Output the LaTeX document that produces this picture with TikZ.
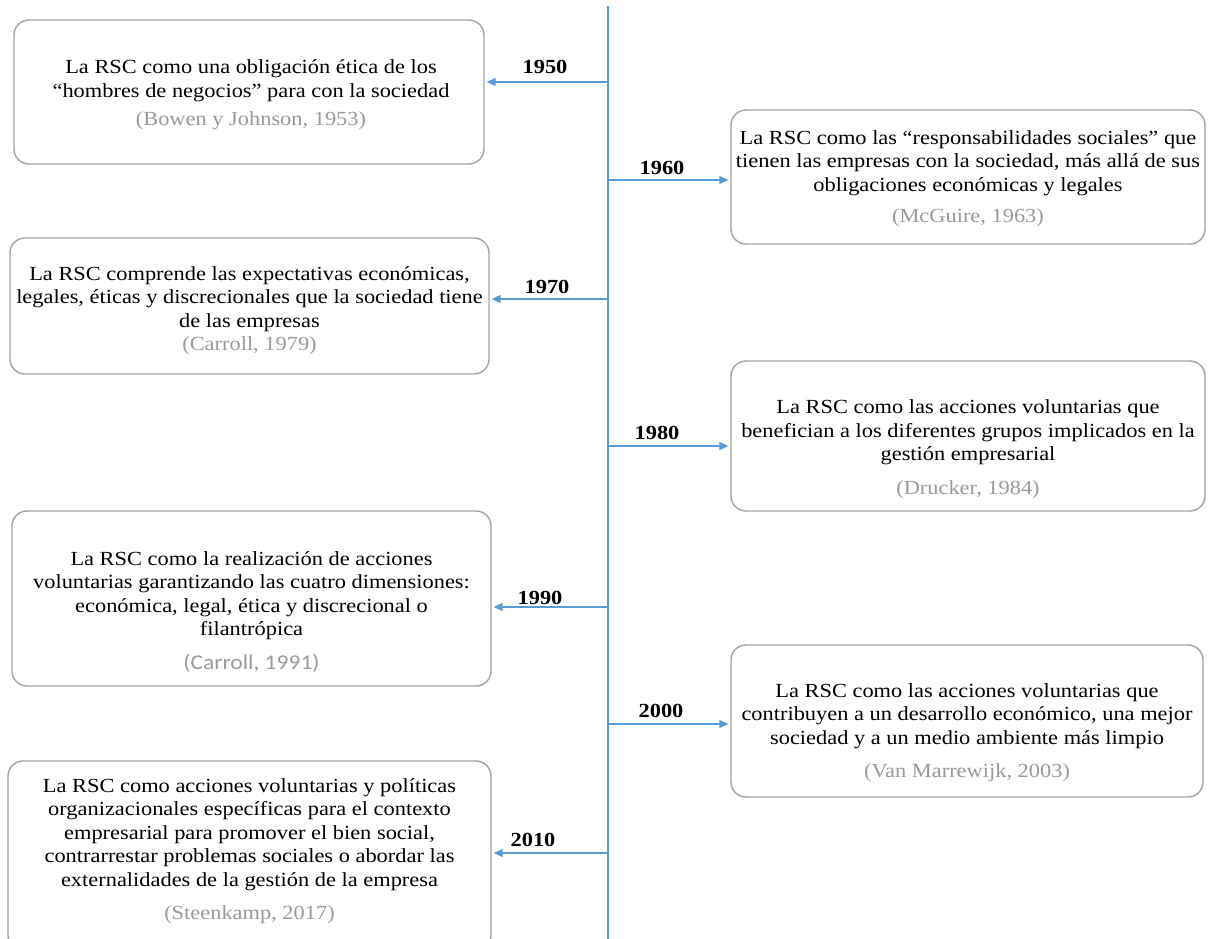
\documentclass[tikz,border=0pt]{standalone}
\usepackage{fontspec}
\setmainfont[FakeStretch=1.12]{Liberation Serif}
\newfontfamily\calfont[FakeStretch=1.12]{Carlito}
\usetikzlibrary{arrows.meta}

\definecolor{lineblue}{HTML}{5B9BD5}
\definecolor{boxgray}{HTML}{A3A3A3}
\definecolor{citegray}{HTML}{9A9A9A}

\tikzset{
  ideabox/.style={draw=boxgray, line width=1.4pt, rounded corners=15pt, fill=white, inner sep=0pt},
  boxtext/.style={inner sep=0pt, align=center, font=\fontsize{20}{23.5}\selectfont},
  yearlbl/.style={font=\fontsize{20}{23}\selectfont\bfseries},
  tlarrow/.style={draw=lineblue, line width=1.2pt, -{Triangle[length=9pt,width=8pt]}, shorten >=2pt}
}
\newcommand{\citeref}[2][10pt]{\\[#1]\textcolor{citegray}{#2}}

\begin{document}
\begin{tikzpicture}[x=1pt,y=-1pt]
\clip (0,0) rectangle (1209,938);

% timeline
\coordinate (top) at (608,6);
\coordinate (bot) at (608,950);
\draw[lineblue, line width=1.2pt] (top) -- (bot);

% left boxes
\node[ideabox, minimum width=470pt, minimum height=144pt] (b1950) at (249,92) {};
\node[boxtext] (x1950) at (251,95)
{La RSC como una obligación ética de los\\``hombres de negocios'' para con la sociedad\citeref[5pt]{(Bowen y Johnson, 1953)}};

\node[ideabox, minimum width=479pt, minimum height=136pt] (b1970) at (249.5,306) {};
\node[boxtext] (x1970) at (249.5,310.5)
{La RSC comprende las expectativas económicas,\\legales, éticas y discrecionales que la sociedad tiene\\de las empresas\citeref[0pt]{(Carroll, 1979)}};

\node[ideabox, minimum width=479pt, minimum height=175pt] (b1990) at (251.5,598.5) {};
\node[boxtext] (x1990) at (251.5,611.5)
{La RSC como la realización de acciones\\voluntarias garantizando las cuatro dimensiones:\\económica, legal, ética y discrecional o\\filantrópica\\[10pt]{\calfont\fontsize{21}{23}\selectfont\textcolor{citegray}{(Carroll, 1991)}}};

\node[ideabox, minimum width=483pt, minimum height=189pt] (b2010) at (249.5,855.5) {};
\node[boxtext] (x2010) at (249.5,851)
{La RSC como acciones voluntarias y políticas\\organizacionales específicas para el contexto\\empresarial para promover el bien social,\\contrarrestar problemas sociales o abordar las\\externalidades de la gestión de la empresa\citeref{(Steenkamp, 2017)}};

% right boxes
\node[ideabox, minimum width=474pt, minimum height=134pt] (b1960) at (968,177) {};
\node[boxtext] (x1960) at (968,178.5)
{La RSC como las ``responsabilidades sociales'' que\\tienen las empresas con la sociedad, más allá de sus\\obligaciones económicas y legales\citeref[8pt]{(McGuire, 1963)}};

\node[ideabox, minimum width=474pt, minimum height=150pt] (b1980) at (968,436) {};
\node[boxtext] (x1980) at (968,449)
{La RSC como las acciones voluntarias que\\benefician a los diferentes grupos implicados en la\\gestión empresarial\citeref{(Drucker, 1984)}};

\node[ideabox, minimum width=472pt, minimum height=152pt] (b2000) at (967,721) {};
\node[boxtext] (x2000) at (967,732.5)
{La RSC como las acciones voluntarias que\\contribuyen a un desarrollo económico, una mejor\\sociedad y a un medio ambiente más limpio\citeref{(Van Marrewijk, 2003)}};

% points on the timeline
\coordinate (t1950) at (608,82);
\coordinate (t1960) at (608,180);
\coordinate (t1970) at (608,299);
\coordinate (t1980) at (608,446);
\coordinate (t1990) at (608,607);
\coordinate (t2000) at (608,724);
\coordinate (t2010) at (608,853);

\draw[tlarrow] (t1950) to (t1950 -| b1950.east);
\draw[tlarrow] (t1960) to (t1960 -| b1960.west);
\draw[tlarrow] (t1970) to (t1970 -| b1970.east);
\draw[tlarrow] (t1980) to (t1980 -| b1980.west);
\draw[tlarrow] (t1990) to (t1990 -| b1990.east);
\draw[tlarrow] (t2000) to (t2000 -| b2000.west);
\draw[tlarrow] (t2010) to (t2010 -| b2010.east);

% years
\node[yearlbl] (y1950) at (545,67) {1950};
\node[yearlbl] (y1960) at (662,168) {1960};
\node[yearlbl] (y1970) at (547,287) {1970};
\node[yearlbl] (y1980) at (657,433) {1980};
\node[yearlbl] (y1990) at (540,598) {1990};
\node[yearlbl] (y2000) at (661,711) {2000};
\node[yearlbl] (y2010) at (533,840) {2010};
\end{tikzpicture}
\end{document}
